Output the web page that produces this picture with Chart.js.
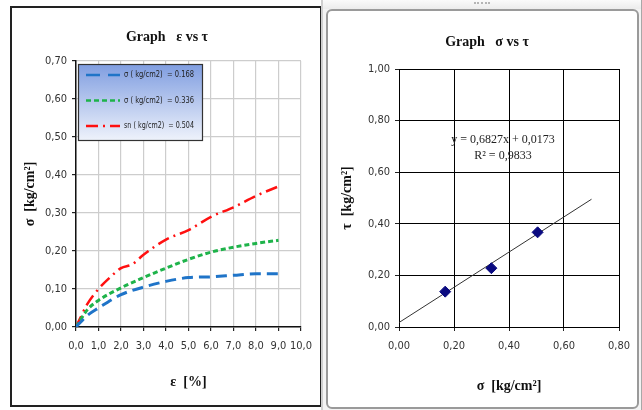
<!DOCTYPE html>
<html><head><meta charset="utf-8">
<script src="https://cdn.jsdelivr.net/npm/chart.js@4.4.0/dist/chart.umd.min.js"></script>
<style>
html,body{margin:0;padding:0;background:#fff;}
body{width:642px;height:410px;position:relative;overflow:hidden;}
#leftFrame{position:absolute;left:10px;top:6px;width:312px;height:401px;box-sizing:border-box;border:2px solid #222;}
#rightOuter{position:absolute;left:321px;top:0;width:321px;height:410px;box-sizing:border-box;background:linear-gradient(#fafafa,#ececec 9px,#f3f3f3 9px);border-left:2px solid #cfcfcf;border-right:1px solid #a8a8a8;}
#rightInner{position:absolute;left:326px;top:9px;width:313px;height:400px;box-sizing:border-box;background:#fff;border:2px solid #9a9a9a;border-radius:6px;}
#grip{position:absolute;left:474px;top:2px;width:16px;height:0;border-top:2px dotted #b5b5b5;}
canvas{position:absolute;top:0;}
#c1{left:0;}
#c2{left:321px;}
</style></head>
<body>
<div id="leftFrame"></div>
<div id="rightOuter"></div>
<div id="grip"></div>
<div id="rightInner"></div>
<canvas id="c1" width="321" height="410"></canvas>
<canvas id="c2" width="321" height="410"></canvas>
<script>
// ---------- data: left chart (strain vs shear stress) ----------
const strain = [0, 0.5, 1, 2, 3, 4, 5, 6, 7, 8, 9];
const tau168 = [0, 0.03, 0.05, 0.085, 0.105, 0.12, 0.13, 0.132, 0.136, 0.14, 0.14];
const tau336 = [0, 0.045, 0.07, 0.103, 0.13, 0.155, 0.178, 0.197, 0.21, 0.22, 0.228];
const strainRed = [0, 0.5, 1, 1.5, 2, 2.5, 3, 4, 5, 6, 7, 8, 9];
const tau504 = [0, 0.06, 0.1, 0.13, 0.155, 0.165, 0.19, 0.23, 0.255, 0.29, 0.315, 0.345, 0.37];
const seriesLabels = ['σ ( kg/cm2)  = 0.168', 'σ ( kg/cm2)  = 0.336', 'sn ( kg/cm2)  = 0.504'];
const leftXTickValues = [0,1,2,3,4,5,6,7,8,9,10];
const leftXTickLabels = ['0,0','1,0','2,0','3,0','4,0','5,0','6,0','7,0','8,0','9,0','10,0'];
const leftYTickValues = [0,0.1,0.2,0.3,0.4,0.5,0.6,0.7];
const leftYTickLabels = ['0,00','0,10','0,20','0,30','0,40','0,50','0,60','0,70'];

// ---------- data: right chart (normal stress vs shear stress) ----------
const sigma = [0.168, 0.336, 0.504];
const tauMax = [0.137, 0.228, 0.367];
const trendSlope = 0.6827;
const trendIntercept = 0.0173;
const trendRange = [0, 0.7];
const eqLines = ['y = 0,6827x + 0,0173', 'R² = 0,9833'];
const rightXTickValues = [0,0.2,0.4,0.6,0.8];
const rightXTickLabels = ['0,00','0,20','0,40','0,60','0,80'];
const rightYTickValues = [0,0.2,0.4,0.6,0.8,1.0];
const rightYTickLabels = ['0,00','0,20','0,40','0,60','0,80','1,00'];

const tickFont = {family:"'Liberation Sans Narrow','DejaVu Sans Condensed','Roboto Condensed',sans-serif", size:11};
const serifBold = {family:"'Liberation Serif','DejaVu Serif',serif", size:14, weight:'bold'};

const freeTitle = {
  id:'freeTitle',
  afterDraw(chart, args, o){
    const ctx = chart.ctx;
    ctx.save();
    ctx.font = 'bold 14px "Liberation Serif", serif';
    ctx.fillStyle = '#111';
    ctx.textAlign = 'center';
    ctx.textBaseline = 'middle';
    ctx.fillText(o.text, o.x, o.y);
    ctx.restore();
  }
};

const boxLegend = {
  id:'boxLegend',
  afterDraw(chart, args, o){
    if(!o.show) return;
    const ctx = chart.ctx, a = chart.chartArea;
    const x = a.left + 2, y = a.top + 3, w = 124, h = 76;
    ctx.save();
    const g = ctx.createLinearGradient(0, y, 0, y + h);
    g.addColorStop(0, '#7f9de0');
    g.addColorStop(1, '#eef2fb');
    ctx.fillStyle = g;
    ctx.fillRect(x, y, w, h);
    ctx.lineWidth = 1.2;
    ctx.strokeStyle = '#333';
    ctx.strokeRect(x + 0.5, y + 0.5, w, h);
    ctx.font = '9.5px "Liberation Sans Narrow","DejaVu Sans Condensed",sans-serif';
    ctx.textBaseline = 'middle';
    chart.data.datasets.forEach((ds, i) => {
      const cy = y + 11 + i * 25.5;
      ctx.beginPath();
      ctx.setLineDash(ds.legendDash);
      ctx.strokeStyle = ds.borderColor;
      ctx.lineWidth = 2.5;
      ctx.moveTo(x + 8, cy);
      ctx.lineTo(x + 42, cy);
      ctx.stroke();
      ctx.setLineDash([]);
      ctx.fillStyle = '#222';
      ctx.fillText(ds.label, x + 46, cy, 70);
    });
    ctx.restore();
  }
};

const equation = {
  id:'equation',
  afterDraw(chart, args, o){
    if(!o.show) return;
    const ctx = chart.ctx;
    const xs = chart.scales.x, ys = chart.scales.y;
    ctx.save();
    ctx.font = '12px "Liberation Serif", serif';
    ctx.fillStyle = '#222';
    ctx.textAlign = 'center';
    ctx.textBaseline = 'middle';
    ctx.fillText(eqLines[0], xs.getPixelForValue(o.x), ys.getPixelForValue(o.y1));
    ctx.fillText(eqLines[1], xs.getPixelForValue(o.x), ys.getPixelForValue(o.y2));
    ctx.restore();
  }
};

function toXY(xs, ys){ return xs.map((v, i) => ({x: v, y: ys[i]})); }

new Chart(document.getElementById('c1'), {
  type: 'line',
  data: {
    datasets: [
      {label: seriesLabels[0], data: toXY(strain, tau168), borderColor:'#1f74c8', borderWidth:3, borderDash:[11,6], legendDash:[14,8], pointRadius:0, cubicInterpolationMode:'monotone', fill:false},
      {label: seriesLabels[1], data: toXY(strain, tau336), borderColor:'#1eb34a', borderWidth:3, borderDash:[5,3], legendDash:[5,3], pointRadius:0, cubicInterpolationMode:'monotone', fill:false},
      {label: seriesLabels[2], data: toXY(strainRed, tau504), borderColor:'#ff1010', borderWidth:2.5, borderDash:[12,5,2,5], legendDash:[12,5,2,5], pointRadius:0, cubicInterpolationMode:'monotone', fill:false}
    ]
  },
  options: {
    responsive:false, animation:false, devicePixelRatio:1,
    layout:{padding:{left:18, right:16, top:61, bottom:15}},
    plugins:{
      legend:{display:false}, tooltip:{enabled:false},
      freeTitle:{text:'Graph   ε vs τ', x:167, y:37},
      boxLegend:{show:true}
    },
    scales:{
      x:{type:'linear', min:0, max:10,
        afterBuildTicks: s => { s.ticks = leftXTickValues.map(v => ({value:v})); },
        afterFit: s => { s.height = 68; },
        ticks:{callback:(v,i)=>leftXTickLabels[i], font:tickFont, color:'#333', padding:9, maxRotation:0, autoSkip:false},
        grid:{color:'#cdcdcd', lineWidth:1.2, tickLength:4, tickColor:'#222'},
        border:{color:'#111', width:1.5},
        title:{display:true, text:'ε  [%]', font:serifBold, color:'#111', padding:{top:4, bottom:4}}
      },
      y:{type:'linear', min:0, max:0.7,
        afterBuildTicks: s => { s.ticks = leftYTickValues.map(v => ({value:v})); },
        afterFit: s => { s.width = 58; },
        ticks:{callback:(v,i)=>leftYTickLabels[i], font:tickFont, color:'#333', padding:5, autoSkip:false},
        grid:{color:'#cdcdcd', lineWidth:1.2, tickLength:4, tickColor:'#222'},
        border:{color:'#111', width:1.5},
        title:{display:true, text:'σ  [kg/cm²]', font:serifBold, color:'#111', padding:{top:4, bottom:4}}
      }
    }
  },
  plugins:[freeTitle, boxLegend]
});

new Chart(document.getElementById('c2'), {
  type: 'scatter',
  data: {
    datasets: [
      {label:'τ', data: toXY(sigma, tauMax), pointStyle:'rectRot', pointRadius:5.5, backgroundColor:'#0a0a80', borderColor:'#0a0a80', borderWidth:1},
      {label:'trend', type:'line', data: trendRange.map(v => ({x:v, y: trendSlope * v + trendIntercept})), borderColor:'#333', borderWidth:1, pointRadius:0, fill:false}
    ]
  },
  options: {
    responsive:false, animation:false, devicePixelRatio:1,
    layout:{padding:{left:14, right:23, top:69, bottom:11}},
    plugins:{
      legend:{display:false}, tooltip:{enabled:false},
      freeTitle:{text:'Graph   σ vs τ', x:166, y:42},
      equation:{show:true, x:0.378, y1:0.725, y2:0.663}
    },
    scales:{
      x:{type:'linear', min:0, max:0.8,
        afterBuildTicks: s => { s.ticks = rightXTickValues.map(v => ({value:v})); },
        afterFit: s => { s.height = 72; },
        ticks:{callback:(v,i)=>rightXTickLabels[i], font:tickFont, color:'#333', padding:9, maxRotation:0, autoSkip:false},
        grid:{color:'#000', lineWidth:1, tickLength:4, tickColor:'#222'},
        border:{color:'#000', width:1},
        title:{display:true, text:'σ  [kg/cm²]', font:serifBold, color:'#111', padding:{top:4, bottom:4}}
      },
      y:{type:'linear', min:0, max:1,
        afterBuildTicks: s => { s.ticks = rightYTickValues.map(v => ({value:v})); },
        afterFit: s => { s.width = 64; },
        ticks:{callback:(v,i)=>rightYTickLabels[i], font:tickFont, color:'#333', padding:5, autoSkip:false},
        grid:{color:'#000', lineWidth:1, tickLength:4, tickColor:'#222'},
        border:{color:'#000', width:1},
        title:{display:true, text:'τ  [kg/cm²]', font:serifBold, color:'#111', padding:{top:4, bottom:4}}
      }
    }
  },
  plugins:[freeTitle, equation]
});
</script>
</body></html>
